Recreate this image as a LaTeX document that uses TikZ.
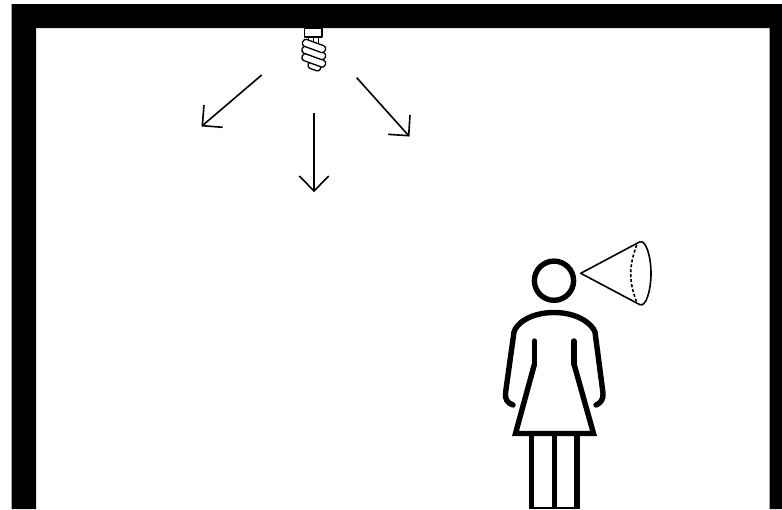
\documentclass[tikz,border=0pt]{standalone}
\tikzset{
  wall/.style={fill=black,draw=none},
  body/.style={draw=black,line width=5.4pt,line join=miter},
  limb/.style={draw=black,line width=5.4pt,line cap=round,line join=round},
  ray/.style={draw=black,line width=1.6pt},
  rayhead/.style={draw=black,line width=1.6pt,line join=miter},
  lamp/.style={draw=black,line width=1.3pt,line join=round,line cap=round},
  cone/.style={draw=black,line width=1.6pt,line join=round}
}
\begin{document}
\begin{tikzpicture}[x=1pt,y=-1pt]
\useasboundingbox (0,0) rectangle (782,509);
\fill[white] (0,0) rectangle (782,509);
% room
\fill[wall] (11.5,509) -- (11.5,4) -- (782,4) -- (782,509) -- (769.5,509) -- (769.5,28) -- (36,28) -- (36,509) -- cycle;
% lamp
\draw[lamp,fill=white] (304.5,28) rectangle (322,37);
\draw[lamp] (308.5,37) -- (308.5,45) (313.5,37) -- (313.5,44) (318.5,37) -- (318.5,43);
\foreach \yy/\xa/\xb in {66/308/321,60.5/301.5/326,53/301.5/326,46/302/326}{
  \draw[lamp,fill=white,rounded corners=3pt,rotate around={-20:(314,\yy)}] (\xa,\yy-3.6) rectangle (\xb,\yy+3.6);
}
% rays
\coordinate (r1a) at (261.7,75); \coordinate (r1b) at (202.3,125.7);
\coordinate (r2a) at (314,113.3); \coordinate (r2b) at (314,191);
\coordinate (r3a) at (356.7,77.7); \coordinate (r3b) at (408.7,135.7);
\draw[ray] (r1a) -- (r1b);
\draw[rayhead] (222.7,127.3) -- (r1b) -- (204,105);
\draw[ray] (r2a) -- (r2b);
\draw[rayhead] (299.3,176) -- (r2b) -- (328.7,176);
\draw[ray] (r3a) -- (r3b);
\draw[rayhead] (388,134.3) -- (r3b) -- (410,115);
% head
\draw[body] (554,280.7) circle (19.6);
% torso
\draw[limb] (513,405) .. controls (507,403) and (505,399) .. (505.5,393) -- (514,332) .. controls (516,324) and (530,312.5) .. (554,312.5) .. controls (578,312.5) and (592,324) .. (595,332) -- (603,393) .. controls (603.5,399) and (601,403) .. (596,405);
\draw[limb] (534.5,341) -- (534.5,364);
\draw[limb] (574,341) -- (574,364);
\draw[body] (534.5,364) -- (515.5,433.5) -- (593.5,433.5) -- (574,364);
% legs
\draw[body] (531.5,433.5) -- (531.5,509);
\draw[body] (554.5,433.5) -- (554.5,509);
\draw[body] (577,433.5) -- (577,509);
\fill[black] (529,506.6) rectangle (579.7,509);
% cone
\draw[cone] (580.7,273.3) -- (639.5,242) .. controls (646,239) and (651,257) .. (651,273.3) .. controls (651,290) and (646,308) .. (639.5,304.5) -- cycle;
\draw[cone,dash pattern=on 3pt off 2pt] (636.7,245) .. controls (633,255) and (630.7,265) .. (630.7,273.3) .. controls (630.7,283) and (633,293) .. (636.7,302);
\end{tikzpicture}
\end{document}
